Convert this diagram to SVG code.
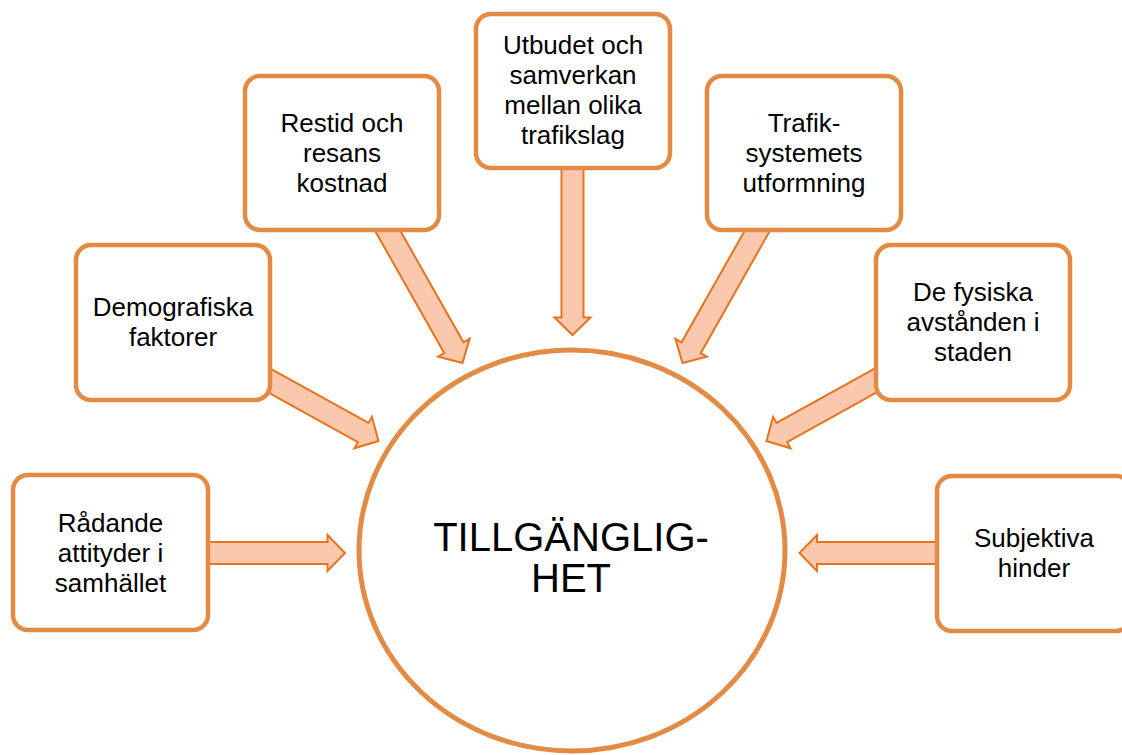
<svg xmlns="http://www.w3.org/2000/svg" width="1122" height="755" viewBox="0 0 1122 755">
<style>
.box{fill:#fff;stroke:#E38B44;stroke-width:4.5}
.arr{fill:#FAC8AD;stroke:#E8731F;stroke-width:2;stroke-linejoin:miter}
.t{font-family:"Liberation Sans",Arial,sans-serif;font-size:26px;fill:#000;text-anchor:middle}
.big{font-family:"Liberation Sans",Arial,sans-serif;font-size:40px;fill:#000;text-anchor:middle}
</style>
<rect width="1122" height="755" fill="#fff"/>
<g id="connectors">
<polygon class="arr" transform="translate(345,553)" points="-140,-11 -17.5,-11 -17.5,-18 0,0 -17.5,18 -17.5,11 -140,11"/>
<polygon class="arr" transform="translate(799.5,553) rotate(180)" points="-140,-11 -17.5,-11 -17.5,-18 0,0 -17.5,18 -17.5,11 -140,11"/>
<polygon class="arr" transform="translate(572.5,335) rotate(90)" points="-170,-11 -17.5,-11 -17.5,-18 0,0 -17.5,18 -17.5,11 -170,11"/>
<polygon class="arr" transform="translate(462.5,363) rotate(60.5)" points="-175,-11 -17.5,-11 -17.5,-18 0,0 -17.5,18 -17.5,11 -175,11"/>
<polygon class="arr" transform="translate(682.5,363) rotate(119.5)" points="-175,-11 -17.5,-11 -17.5,-18 0,0 -17.5,18 -17.5,11 -175,11"/>
<polygon class="arr" transform="translate(378.5,441) rotate(29)" points="-140,-11 -17.5,-11 -17.5,-18 0,0 -17.5,18 -17.5,11 -140,11"/>
<polygon class="arr" transform="translate(766.5,441) rotate(151)" points="-140,-11 -17.5,-11 -17.5,-18 0,0 -17.5,18 -17.5,11 -140,11"/>
</g>
<g id="center">
<ellipse cx="572" cy="550.5" rx="213" ry="200.5" fill="#fff" stroke="#E38B44" stroke-width="5"/>
<text class="big" x="571" y="551">TILLGÄNGLIG-</text>
<text class="big" x="571" y="592">HET</text>
</g>
<g id="radande">
<rect class="box" x="13" y="475" width="195" height="155" rx="15"/>
<text class="t" x="110.5" y="532">Rådande</text>
<text class="t" x="110.5" y="562">attityder i</text>
<text class="t" x="110.5" y="592">samhället</text>
</g>
<g id="demografiska">
<rect class="box" x="76" y="245" width="194" height="155" rx="15"/>
<text class="t" x="173" y="316">Demografiska</text>
<text class="t" x="173" y="346">faktorer</text>
</g>
<g id="restid">
<rect class="box" x="245" y="76" width="194" height="154" rx="15"/>
<text class="t" x="342" y="132">Restid och</text>
<text class="t" x="342" y="162">resans</text>
<text class="t" x="342" y="192">kostnad</text>
</g>
<g id="utbudet">
<rect class="box" x="476" y="14" width="194" height="154" rx="15"/>
<text class="t" x="573" y="54">Utbudet och</text>
<text class="t" x="573" y="84">samverkan</text>
<text class="t" x="573" y="114">mellan olika</text>
<text class="t" x="573" y="144">trafikslag</text>
</g>
<g id="trafik">
<rect class="box" x="707" y="76" width="194" height="154" rx="15"/>
<text class="t" x="804" y="132">Trafik-</text>
<text class="t" x="804" y="162">systemets</text>
<text class="t" x="804" y="192">utformning</text>
</g>
<g id="fysiska">
<rect class="box" x="876" y="245" width="194" height="155" rx="15"/>
<text class="t" x="973" y="301">De fysiska</text>
<text class="t" x="973" y="331">avstånden i</text>
<text class="t" x="973" y="361">staden</text>
</g>
<g id="subjektiva">
<rect class="box" x="937" y="476" width="194" height="155" rx="15"/>
<text class="t" x="1034" y="547">Subjektiva</text>
<text class="t" x="1034" y="577">hinder</text>
</g>
</svg>
